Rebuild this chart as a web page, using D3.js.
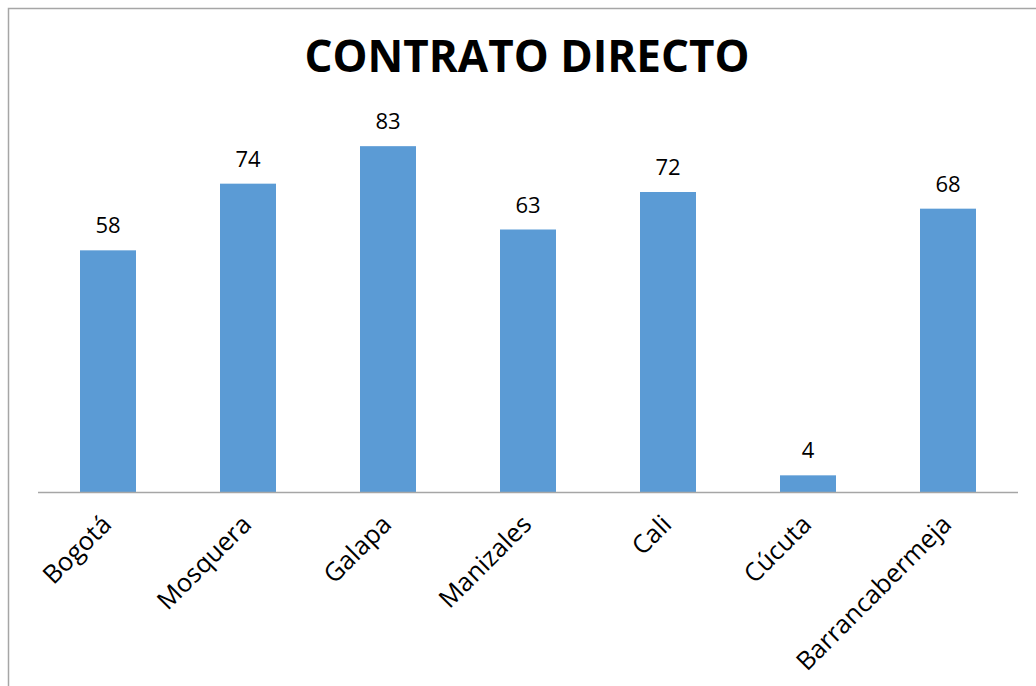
<!DOCTYPE html>
<html>
<head>
<meta charset="utf-8">
<script src="https://cdn.jsdelivr.net/npm/d3@7"></script>
<style>
  body { margin: 0; background: #fff; }
  svg { display: block; }
</style>
</head>
<body>
<svg id="chart" width="1036" height="686"></svg>
<script>
// datos del grafico
const categories = ["Bogotá", "Mosquera", "Galapa", "Manizales", "Cali", "Cúcuta", "Barrancabermeja"];
const values = [58, 74, 83, 63, 72, 4, 68];
const title = "CONTRATO DIRECTO";

const width = 1036, height = 686;
const plot = { left: 38, right: 1018, top: 117, bottom: 492 };

const svg = d3.select("#chart");

// marco
svg.append("rect")
  .attr("x", 8.5).attr("y", 8.5)
  .attr("width", 1100).attr("height", 800)
  .style("fill", "none")
  .style("stroke", "#a6a6a6")
  .style("stroke-width", 1.5);

svg.append("text")
  .attr("x", 527).attr("y", 72)
  .attr("text-anchor", "middle")
  .style("font-family", "'Open Sans', sans-serif")
  .style("font-weight", "bold")
  .style("font-size", "44px")
  .style("fill", "#000")
  .text(title);

const x = d3.scaleBand()
  .domain(categories)
  .range([plot.left, plot.right])
  .paddingInner(0.6)
  .paddingOuter(0.3);

const y = d3.scaleLinear()
  .domain([0, 90])
  .range([plot.bottom, plot.top]);

const data = categories.map((c, i) => ({ cat: c, val: values[i] }));

svg.selectAll(".bar")
  .data(data)
  .enter()
  .append("rect")
  .attr("class", "bar")
  .attr("x", d => x(d.cat))
  .attr("y", d => y(d.val))
  .attr("width", x.bandwidth())
  .attr("height", d => y(0) - y(d.val))
  .style("fill", "#5b9bd5");

svg.selectAll(".val")
  .data(data)
  .enter()
  .append("text")
  .attr("class", "val")
  .attr("x", d => x(d.cat) + x.bandwidth() / 2)
  .attr("y", d => y(d.val) - 17)
  .attr("text-anchor", "middle")
  .style("font-family", "'Open Sans', sans-serif")
  .style("font-size", "22px")
  .style("fill", "#000")
  .text(d => d.val);

// eje x
const xAxis = d3.axisBottom(x).tickSize(0).tickPadding(0);
const gx = svg.append("g")
  .attr("transform", `translate(0,${plot.bottom})`)
  .call(xAxis);
gx.select(".domain")
  .attr("d", `M${plot.left},0.5H${plot.right}`)
  .style("stroke", "#a6a6a6")
  .style("stroke-width", 1.5);
gx.selectAll(".tick text")
  .attr("x", 0).attr("y", 0).attr("dy", 0)
  .attr("transform", "translate(5,34) rotate(-45)")
  .attr("text-anchor", "end")
  .style("font-family", "'Open Sans', sans-serif")
  .style("font-size", "25.5px")
  .style("fill", "#000");
</script>
</body>
</html>
